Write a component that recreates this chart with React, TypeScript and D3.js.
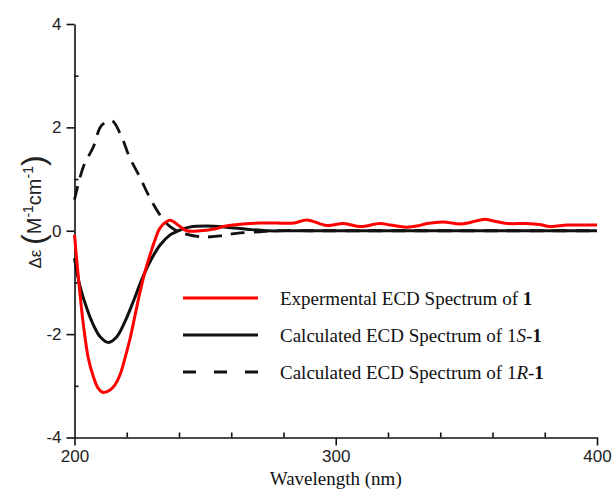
import React, { useEffect, useRef } from "react";
import * as d3 from "d3";

// Experimental ECD spectrum (red)
const expWl = [200, 201.4, 203.4, 205.3, 207.2, 209.1, 211, 213.6, 215.5, 217.4, 219.3, 221.3, 223.2, 225.1, 227, 228.9, 230.8, 232.7, 235, 237, 240.4, 243, 248, 253, 258, 264.6, 271, 277.5, 284, 289, 296.6, 303, 309.4, 317, 321, 327, 331, 335, 341, 347.7, 351.5, 356.6, 360.5, 365.6, 373, 378, 382, 388.6, 395, 400];
const expVal = [-0.08, -0.86, -1.82, -2.47, -2.82, -3.05, -3.13, -3.08, -2.98, -2.79, -2.47, -2.08, -1.63, -1.18, -0.79, -0.47, -0.18, 0.05, 0.17, 0.2, 0.08, 0.0, 0.0, 0.03, 0.09, 0.13, 0.15, 0.15, 0.15, 0.21, 0.1, 0.14, 0.08, 0.14, 0.11, 0.07, 0.09, 0.14, 0.17, 0.13, 0.16, 0.22, 0.19, 0.14, 0.14, 0.12, 0.08, 0.11, 0.11, 0.11];

// Calculated 1S (black solid)
const calcSWl = [200, 202, 204.7, 207.2, 209.8, 213, 216.2, 219.3, 222.5, 225.7, 228.9, 232.7, 236.6, 239.7, 244, 250.6, 258, 266, 273.6, 285, 300, 350, 400];
const calcSVal = [-0.53, -1.05, -1.5, -1.82, -2.05, -2.16, -2.05, -1.76, -1.37, -0.95, -0.6, -0.28, -0.08, 0.0, 0.07, 0.09, 0.07, 0.03, 0.0, 0.0, 0.0, 0.0, 0.0];

// Calculated 1R (black dashed)
const calcRWl = [200, 203.4, 207.2, 210.4, 214.3, 218, 221, 225, 228.3, 232.8, 236.6, 241.7, 249.4, 255.7, 262, 271, 277, 290, 320, 360, 400];
const calcRVal = [0.6, 1.24, 1.62, 2.04, 2.13, 1.82, 1.43, 1.04, 0.69, 0.3, 0.08, -0.05, -0.12, -0.1, -0.05, -0.02, 0.0, 0.0, 0.0, 0.0, 0.0];

const xMajor = [200, 300, 400];
const xMinor = [220, 240, 260, 280, 320, 340, 360, 380];
const yMajor = [-4, -2, 0, 2, 4];
const yMinor = [-3, -1, 1, 3];

const App = () => {
  const ref = useRef<SVGSVGElement>(null);

  useEffect(() => {
    const svg = d3.select(ref.current);
    svg.selectAll("*").remove();

    const x = d3.scaleLinear().domain([200, 400]).range([74.5, 597]);
    const y = d3.scaleLinear().domain([-4, 4]).range([437.5, 24]);

    const tickFont = "'Liberation Sans', Arial, sans-serif";
    const fmt = (d: any) => String(d);

    // Y axis, major ticks outward
    const yAx = svg
      .append("g")
      .attr("transform", `translate(${x(200)},0)`)
      .call(d3.axisLeft(y).tickValues(yMajor).tickFormat(fmt).tickSize(8).tickSizeOuter(0).tickPadding(5));
    // Y minor ticks inward
    svg
      .append("g")
      .attr("transform", `translate(${x(200)},0)`)
      .call(d3.axisRight(y).tickValues(yMinor).tickSize(4).tickFormat(() => ""))
      .select(".domain")
      .remove();

    // X axis, major down, minor up
    const xAx = svg
      .append("g")
      .attr("transform", `translate(0,${y(-4)})`)
      .call(d3.axisBottom(x).tickValues(xMajor).tickFormat(fmt).tickSize(8).tickSizeOuter(0).tickPadding(4));
    svg
      .append("g")
      .attr("transform", `translate(0,${y(-4)})`)
      .call(d3.axisTop(x).tickValues(xMinor).tickSize(5).tickFormat(() => ""))
      .select(".domain")
      .remove();

    [yAx, xAx].forEach((g) => {
      g.selectAll("text").attr("font-size", 17).attr("font-family", tickFont).attr("fill", "#222");
    });
    svg.selectAll(".domain, .tick line").attr("stroke", "#111").attr("stroke-width", 1.6);

    const line = (wl: number[], vals: number[]) =>
      d3
        .line<number>()
        .x((_, i) => x(wl[i]))
        .y((d) => y(d))
        .curve(d3.curveCatmullRom)(vals);

    svg
      .append("path")
      .attr("d", line(calcRWl, calcRVal))
      .attr("fill", "none")
      .attr("stroke", "#111")
      .attr("stroke-width", 2.8)
      .attr("stroke-dasharray", "14,9");
    svg
      .append("path")
      .attr("d", line(calcSWl, calcSVal))
      .attr("fill", "none")
      .attr("stroke", "#111")
      .attr("stroke-width", 3);
    svg
      .append("path")
      .attr("d", line(expWl, expVal))
      .attr("fill", "none")
      .attr("stroke", "#ff0000")
      .attr("stroke-width", 3);

    // Legend
    const legendItems = [
      { color: "#ff0000", dash: null, parts: [["Expermental ECD Spectrum of ", ""], ["1", "bold"]] },
      { color: "#111", dash: null, parts: [["Calculated ECD Spectrum of 1", ""], ["S", "italic"], ["-", ""], ["1", "bold"]] },
      { color: "#111", dash: "13,18", parts: [["Calculated ECD Spectrum of 1", ""], ["R", "italic"], ["-", ""], ["1", "bold"]] },
    ];
    const ly = [298, 335, 372];
    legendItems.forEach((item, i) => {
      svg
        .append("line")
        .attr("x1", 183)
        .attr("x2", 258)
        .attr("y1", ly[i])
        .attr("y2", ly[i])
        .attr("stroke", item.color)
        .attr("stroke-width", 3)
        .attr("stroke-dasharray", item.dash);
      const t = svg
        .append("text")
        .attr("x", 280)
        .attr("y", ly[i] + 7)
        .attr("font-family", "'Liberation Serif', 'Times New Roman', serif")
        .attr("font-size", 19)
        .attr("fill", "#111");
      item.parts.forEach(([s, st]) => {
        const sp = t.append("tspan").text(s);
        if (st === "bold") sp.attr("font-weight", "bold");
        if (st === "italic") sp.attr("font-style", "italic");
      });
    });

    // X label
    svg
      .append("text")
      .attr("x", x(300))
      .attr("y", 485)
      .attr("text-anchor", "middle")
      .attr("font-family", "'Liberation Serif', 'Times New Roman', serif")
      .attr("font-size", 19)
      .attr("fill", "#111")
      .text("Wavelength (nm)");

    // Y label
    const yl = svg
      .append("text")
      .attr("transform", "translate(41,212) rotate(-90)")
      .attr("text-anchor", "middle")
      .attr("font-family", tickFont)
      .attr("fill", "#222");
    yl.append("tspan").attr("font-size", 17).text("Δε ");
    yl.append("tspan").attr("font-size", 32).attr("dy", 3).text("(");
    yl.append("tspan").attr("font-size", 20).attr("dy", -3).text("M");
    yl.append("tspan").attr("font-size", 14).attr("dy", -8).text("-1");
    yl.append("tspan").attr("font-size", 20).attr("dy", 8).text("cm");
    yl.append("tspan").attr("font-size", 14).attr("dy", -8).text("-1");
    yl.append("tspan").attr("font-size", 32).attr("dy", 11).text(")");
  }, []);

  return (
    <svg
      ref={ref}
      width={612}
      height={490}
      style={{ position: "absolute", left: 0, top: 0, background: "#fff" }}
    />
  );
};

export default App;
